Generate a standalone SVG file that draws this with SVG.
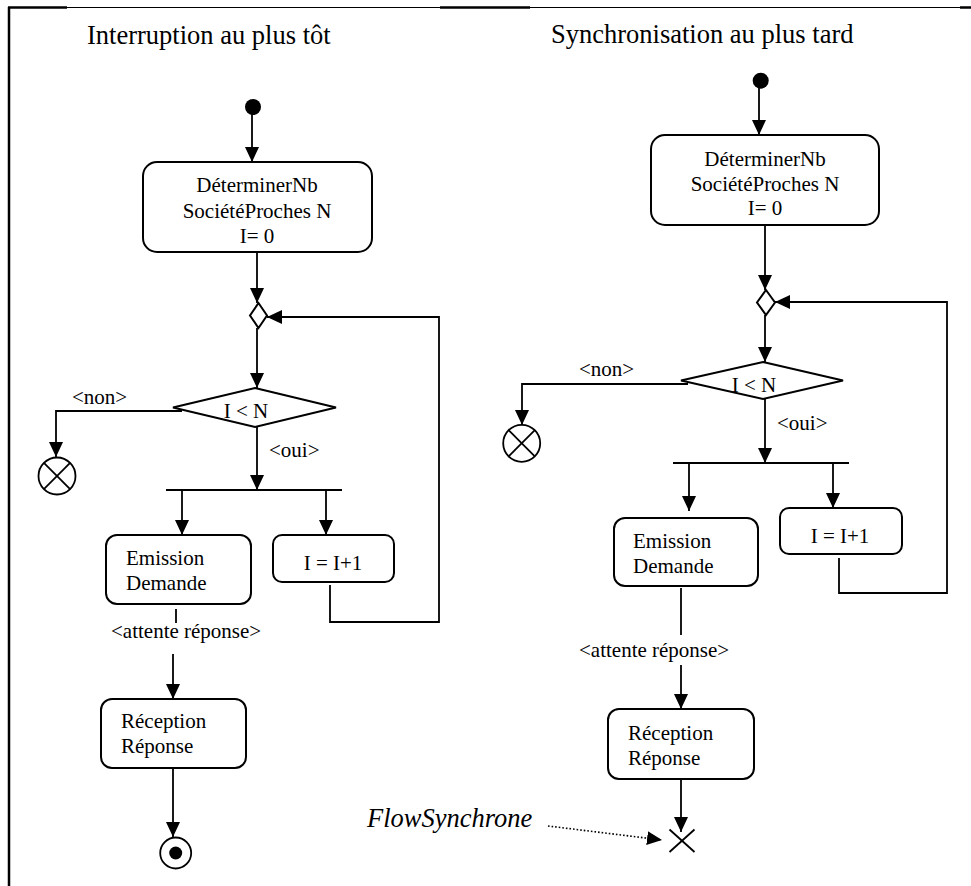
<svg xmlns="http://www.w3.org/2000/svg" width="971" height="886" viewBox="0 0 971 886">
<defs>
<marker id="ah" viewBox="0 0 15 14" refX="15" refY="7" markerWidth="15" markerHeight="14" markerUnits="userSpaceOnUse" orient="auto">
<path d="M0,0 L15,7 L0,14 z" fill="#000"/>
</marker>
</defs>
<style>
.t{font-family:"Liberation Serif","Times New Roman",serif;font-size:21px;fill:#000}
.title{font-family:"Liberation Serif","Times New Roman",serif;font-size:26.5px;fill:#000}
.it{font-family:"Liberation Serif","Times New Roman",serif;font-size:26.5px;font-style:italic;fill:#000}
.box{fill:#fff;stroke:#000;stroke-width:2}
.dia{fill:#fff;stroke:#000;stroke-width:2}
.c{fill:none;stroke:#000;stroke-width:1.8}
.a{fill:none;stroke:#000;stroke-width:1.8;marker-end:url(#ah)}
.dot{fill:none;stroke:#000;stroke-width:1.6;stroke-dasharray:1.6 2;marker-end:url(#ah)}
.mid{text-anchor:middle}
</style>
<rect width="971" height="886" fill="#fff"/>
<g id="frame">
<line x1="9" y1="7" x2="9" y2="886" stroke="#000" stroke-width="2.5"/>
<line x1="8" y1="7.5" x2="971" y2="7.5" stroke="#000" stroke-width="1"/>
<line x1="8" y1="7.5" x2="67" y2="7.5" stroke="#000" stroke-width="2.5"/>
<line x1="440" y1="7.5" x2="530" y2="7.5" stroke="#000" stroke-width="2.5"/>
<line x1="960" y1="7.5" x2="971" y2="7.5" stroke="#000" stroke-width="2.5"/>
</g>
<g id="titles">
<text class="title" x="87" y="44">Interruption au plus tôt</text>
<text class="title" x="551" y="43">Synchronisation au plus tard</text>
</g>
<g id="connectors">
<!-- left -->
<line class="a" x1="252" y1="110" x2="252" y2="162"/>
<line class="a" x1="257" y1="252" x2="257" y2="303"/>
<line class="a" x1="257" y1="328" x2="257" y2="388"/>
<polyline class="a" points="182,411 56,411 56,457"/>
<line class="a" x1="257" y1="427" x2="257" y2="490"/>
<line class="c" x1="166" y1="490" x2="342" y2="490"/>
<line class="a" x1="182" y1="490" x2="182" y2="535"/>
<line class="a" x1="326" y1="490" x2="326" y2="535"/>
<polyline class="a" points="330,585 330,622 439,622 439,317 267,317"/>
<line class="c" x1="176" y1="609" x2="176" y2="623"/>
<line class="a" x1="173" y1="654" x2="173" y2="699"/>
<line class="a" x1="173" y1="768" x2="173" y2="837"/>
<!-- right -->
<line class="a" x1="759" y1="84" x2="759" y2="135"/>
<line class="a" x1="765" y1="225" x2="765" y2="290"/>
<line class="a" x1="765" y1="315" x2="765" y2="362"/>
<polyline class="a" points="688,384 522,384 522,425"/>
<line class="a" x1="765" y1="399" x2="765" y2="463"/>
<line class="c" x1="673" y1="463" x2="849" y2="463"/>
<line class="a" x1="689" y1="463" x2="689" y2="511"/>
<line class="a" x1="833" y1="463" x2="833" y2="508"/>
<polyline class="a" points="839,558 839,593 947,593 947,302 775,302"/>
<line class="c" x1="681" y1="588" x2="681" y2="635"/>
<line class="a" x1="681" y1="665" x2="681" y2="709"/>
<line class="a" x1="681" y1="779" x2="681" y2="832"/>
<line class="dot" x1="548" y1="826" x2="662" y2="840"/>
</g>
<g id="L-start"><circle cx="253" cy="107" r="8" fill="#000"/></g>
<g id="L-determiner">
<rect class="box" x="143" y="162" width="229" height="90" rx="14"/>
<text class="t mid" x="257" y="192">DéterminerNb</text>
<text class="t mid" x="257" y="218">SociétéProches N</text>
<text class="t mid" x="257" y="243">I= 0</text>
</g>
<g id="L-merge"><polygon class="dia" points="258.5,303 267,315.5 258.5,328 250,315.5"/></g>
<g id="L-decision">
<polygon class="dia" points="255,388 336,407.5 255,427 173,407.5"/>
<text class="t mid" x="246" y="418">I &lt; N</text>
</g>
<g id="L-labels">
<text class="t" x="72" y="404">&lt;non&gt;</text>
<text class="t" x="269" y="457">&lt;oui&gt;</text>
<text class="t" x="111" y="638">&lt;attente réponse&gt;</text>
</g>
<g id="L-flowfinal">
<circle cx="57" cy="476" r="18.5" fill="#fff" stroke="#000" stroke-width="1.8"/>
<line x1="43.9" y1="462.9" x2="70.1" y2="489.1" stroke="#000" stroke-width="1.8"/>
<line x1="70.1" y1="462.9" x2="43.9" y2="489.1" stroke="#000" stroke-width="1.8"/>
</g>
<g id="L-emission">
<rect class="box" x="106" y="535" width="145" height="69" rx="11"/>
<text class="t" x="126" y="565">Emission</text>
<text class="t" x="126" y="590">Demande</text>
</g>
<g id="L-incr">
<rect class="box" x="273" y="535" width="121" height="47" rx="9"/>
<text class="t mid" x="333" y="570">I = I+1</text>
</g>
<g id="L-reception">
<rect class="box" x="101" y="699" width="145" height="69" rx="11"/>
<text class="t" x="121" y="728">Réception</text>
<text class="t" x="121" y="753">Réponse</text>
</g>
<g id="L-end">
<circle cx="175.7" cy="853" r="15.5" fill="#fff" stroke="#000" stroke-width="1.8"/>
<circle cx="175.7" cy="853" r="6.5" fill="#000"/>
</g>
<g id="R-start"><circle cx="760.7" cy="80.7" r="8" fill="#000"/></g>
<g id="R-determiner">
<rect class="box" x="651" y="135" width="228" height="90" rx="14"/>
<text class="t mid" x="765" y="166">DéterminerNb</text>
<text class="t mid" x="765" y="191">SociétéProches N</text>
<text class="t mid" x="765" y="215">I= 0</text>
</g>
<g id="R-merge"><polygon class="dia" points="766,290 775,302.5 766,315 757,302.5"/></g>
<g id="R-decision">
<polygon class="dia" points="763,362 843,380.5 763,399 681,380.5"/>
<text class="t mid" x="754" y="392">I &lt; N</text>
</g>
<g id="R-labels">
<text class="t" x="579" y="376">&lt;non&gt;</text>
<text class="t" x="777" y="430">&lt;oui&gt;</text>
<text class="t" x="579" y="657">&lt;attente réponse&gt;</text>
</g>
<g id="R-flowfinal">
<circle cx="521.7" cy="443.3" r="18.5" fill="#fff" stroke="#000" stroke-width="1.8"/>
<line x1="508.6" y1="430.2" x2="534.8" y2="456.4" stroke="#000" stroke-width="1.8"/>
<line x1="534.8" y1="430.2" x2="508.6" y2="456.4" stroke="#000" stroke-width="1.8"/>
</g>
<g id="R-emission">
<rect class="box" x="614" y="518" width="144" height="68" rx="11"/>
<text class="t" x="633" y="548">Emission</text>
<text class="t" x="633" y="573">Demande</text>
</g>
<g id="R-incr">
<rect class="box" x="780" y="508" width="122" height="46" rx="9"/>
<text class="t mid" x="840" y="543">I = I+1</text>
</g>
<g id="R-reception">
<rect class="box" x="608" y="709" width="146" height="70" rx="11"/>
<text class="t" x="628" y="740">Réception</text>
<text class="t" x="628" y="765">Réponse</text>
</g>
<g id="R-flowsync">
<line x1="669.5" y1="829.5" x2="694.5" y2="852" stroke="#000" stroke-width="1.8"/>
<line x1="694.5" y1="829.5" x2="669.5" y2="852" stroke="#000" stroke-width="1.8"/>
</g>
<g id="note"><text class="it" x="367" y="827">FlowSynchrone</text></g>
</svg>
